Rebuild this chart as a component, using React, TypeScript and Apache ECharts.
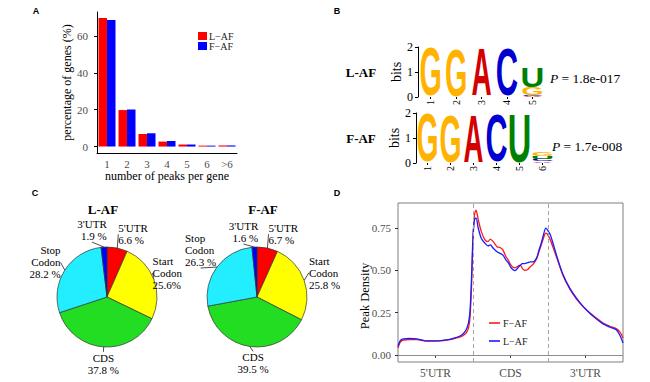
import React, { useEffect, useRef } from 'react';
import * as echarts from 'echarts';

// ---------- Panel A: number of peaks per gene ----------
const peakCategories = ['1', '2', '3', '4', '5', '6', '>6'];
const genesPctLAF = [69.8, 19.8, 6.8, 2.7, 1.1, 0.5, 0.6];
const genesPctFAF = [68.6, 20.1, 7.2, 3.0, 1.1, 0.5, 0.6];
const percentTicks = [0, 20, 40, 60];

// ---------- Panel B: motif logos (position, letter, bits; bottom to top) ----------
const logoLAF: [number, string, number][] = [
  [1, 'G', 2.0],
  [2, 'G', 1.98],
  [3, 'A', 1.95],
  [4, 'C', 1.97],
  [5, 'A', 0.03],
  [5, 'C', 0.04],
  [5, 'G', 0.3],
  [5, 'U', 0.8],
];
const logoFAF: [number, string, number][] = [
  [1, 'G', 2.0],
  [2, 'G', 1.98],
  [3, 'A', 1.98],
  [4, 'C', 1.98],
  [5, 'U', 2.0],
  [6, 'A', 0.06],
  [6, 'C', 0.09],
  [6, 'U', 0.12],
  [6, 'G', 0.18],
];
const bitsTicks = [0, 1, 2];
const pValueLAF = '1.8e-017';
const pValueFAF = '1.7e-008';

// ---------- Panel C: peak distribution pies ----------
const regionNames = ["5'UTR", 'Start\nCodon', 'CDS', 'Stop\nCodon', "3'UTR"];
const regionPctLAF = [6.6, 25.6, 37.8, 28.2, 1.9];
const regionPctFAF = [6.7, 25.8, 39.5, 26.3, 1.6];
const pctSuffixLAF = [' %', '%', ' %', ' %', ' %'];
const pctSuffixFAF = [' %', ' %', ' %', ' %', ' %'];
const regionColors = ['#ff0000', '#ffff00', '#22dd22', '#22eeff', '#0000ff'];

// ---------- Panel D: metagene peak density ----------
const metaX = [0, 0.03, 0.07, 0.15, 0.25, 0.32, 0.38, 0.5, 0.6, 0.69, 0.76, 0.82, 0.87, 0.91, 0.94, 0.96, 0.98, 1.0, 1.02, 1.04, 1.07, 1.11, 1.16, 1.2, 1.23, 1.27, 1.32, 1.36, 1.4, 1.44, 1.47, 1.5, 1.53, 1.56, 1.6, 1.63, 1.66, 1.69, 1.73, 1.76, 1.8, 1.85, 1.88, 1.91, 1.94, 1.97, 1.99, 2.03, 2.08, 2.12, 2.2, 2.29, 2.38, 2.47, 2.56, 2.64, 2.73, 2.82, 2.91, 2.96, 3.0];
const densityFAF = [0.04, 0.075, 0.088, 0.09, 0.09, 0.085, 0.082, 0.082, 0.085, 0.09, 0.098, 0.105, 0.115, 0.13, 0.16, 0.22, 0.4, 0.68, 0.83, 0.855, 0.8, 0.73, 0.68, 0.67, 0.685, 0.67, 0.64, 0.635, 0.62, 0.58, 0.56, 0.535, 0.52, 0.515, 0.525, 0.53, 0.51, 0.5, 0.505, 0.52, 0.535, 0.57, 0.61, 0.65, 0.69, 0.72, 0.715, 0.68, 0.62, 0.57, 0.47, 0.39, 0.33, 0.285, 0.248, 0.22, 0.19, 0.17, 0.155, 0.135, 0.1];
const densityLAF = [0.05, 0.085, 0.095, 0.097, 0.095, 0.088, 0.083, 0.083, 0.086, 0.092, 0.1, 0.11, 0.125, 0.15, 0.19, 0.26, 0.45, 0.7, 0.8, 0.81, 0.75, 0.69, 0.66, 0.645, 0.65, 0.63, 0.61, 0.6, 0.59, 0.56, 0.545, 0.52, 0.505, 0.498, 0.515, 0.53, 0.54, 0.54, 0.545, 0.55, 0.55, 0.575, 0.62, 0.66, 0.71, 0.75, 0.74, 0.71, 0.64, 0.58, 0.475, 0.395, 0.335, 0.285, 0.245, 0.215, 0.185, 0.165, 0.148, 0.115, 0.07];
const densityTicks = [0, 0.25, 0.5, 0.75];
const metaRegionTicks = [0.5, 1.5, 2.5];
const metaRegionLabels = ["5'UTR", 'CDS', "3'UTR"];
const metaBoundaries = [1, 2];

// ---------- styling ----------
const SERIF = "'Liberation Serif', 'Times New Roman', serif";
const SANS = "'Liberation Sans', Arial, sans-serif";
const LETTER_COLORS: Record<string, string> = { A: '#d40000', C: '#0000d0', G: '#ffb300', U: '#008000' };
const LETTER_INK_W: Record<string, number> = { A: 0.71, C: 0.64, G: 0.69, U: 0.6 };
const LETTER_INK_H = 0.735;
const LETTER_FONT = 50;
// small per-label offsets (dx, dy, optional align) for pie label placement
const pieLabelAdjustLAF: [number, number, string?][] = [[0, 3], [-6, -5], [0, 0], [0, -5], [3, 0]];
const pieLabelAdjustFAF: [number, number, string?][] = [[0, 3], [0, -6], [4, 0], [-28, -14, 'left'], [4, 2]];

function logoSeries(logo: [number, string, number][], axisIndex: number, fill: number) {
  const bases: number[] = [];
  const acc: Record<number, number> = {};
  logo.forEach(([p, , b]) => {
    bases.push(acc[p] || 0);
    acc[p] = (acc[p] || 0) + b;
  });
  const letters = logo.map((d) => d[1]);
  return {
    type: 'custom',
    xAxisIndex: axisIndex,
    yAxisIndex: axisIndex,
    silent: true,
    dimensions: ['pos', 'base', 'bits'],
    data: logo.map(([p, , b], i) => [p, bases[i], b]),
    renderItem: (params: any, api: any) => {
      const pos = api.value(0);
      const base = api.value(1);
      const bits = api.value(2);
      const lo = api.coord([pos - 0.5, base]);
      const hi = api.coord([pos + 0.5, base + bits]);
      const letter = letters[params.dataIndex];
      const w = (hi[0] - lo[0]) * fill;
      const h = lo[1] - hi[1];
      return {
        type: 'text',
        x: (lo[0] + hi[0]) / 2,
        y: (lo[1] + hi[1]) / 2,
        scaleX: w / (LETTER_INK_W[letter] * LETTER_FONT),
        scaleY: h / (LETTER_INK_H * LETTER_FONT),
        style: {
          text: letter,
          fontSize: LETTER_FONT,
          fontFamily: SANS,
          fontWeight: 'bold',
          fill: LETTER_COLORS[letter],
          align: 'center',
          verticalAlign: 'middle',
        },
      };
    },
  };
}

function pieSeries(
  values: number[],
  suffix: string[],
  adjust: [number, number, string?][],
  cx: number,
  cy: number,
  r: number
) {
  const total = values.reduce((a, b) => a + b, 0);
  return {
    type: 'pie',
    center: [cx, cy],
    radius: r,
    startAngle: 90,
    clockwise: true,
    avoidLabelOverlap: false,
    silent: true,
    data: values.map((v, i) => ({ name: regionNames[i], value: v, itemStyle: { color: regionColors[i] } })),
    itemStyle: { borderColor: '#333', borderWidth: 0.7 },
    label: {
      show: true,
      position: 'outside',
      color: '#000',
      fontFamily: SERIF,
      fontSize: 11,
      lineHeight: 12,
      formatter: (p: any) => `${regionNames[p.dataIndex]}\n${values[p.dataIndex]}${suffix[p.dataIndex]}`,
    },
    labelLine: { show: true, length: 3, length2: 0, lineStyle: { color: '#000', width: 0.7 } },
    labelLayout: (p: any) => {
      const i = p.dataIndex;
      let before = 0;
      for (let k = 0; k < i; k++) before += values[k];
      const theta = ((before + values[i] / 2) / total) * Math.PI * 2;
      const s = Math.sin(theta);
      const c = Math.cos(theta);
      const d = r * 1.1;
      const [dx, dy, al] = adjust[i];
      const bottom = c < -0.8;
      return {
        x: cx + d * s + dx,
        y: cy - d * c + dy,
        align: al || (bottom && Math.abs(s) < 0.2 ? 'center' : s < 0 ? 'right' : 'left'),
        verticalAlign: c > 0.8 ? 'bottom' : bottom ? 'top' : 'middle',
      };
    },
  };
}

function txt(text: string, x: number, y: number, size: number, opts: any = {}) {
  return {
    type: 'text',
    x,
    y,
    rotation: opts.rotation || 0,
    silent: true,
    style: {
      text,
      fontSize: size,
      fontFamily: opts.family || SERIF,
      fontWeight: opts.weight || 'normal',
      fill: opts.color || '#000',
      align: opts.align || 'center',
      verticalAlign: 'middle',
      rich: opts.rich,
    },
  };
}

export default function App() {
  const ref = useRef<HTMLDivElement>(null);
  useEffect(() => {
    if (!ref.current) return;
    const chart = echarts.init(ref.current, null, { renderer: 'svg' });
    const pRich = { i: { fontStyle: 'italic', fontSize: 13.5, fontFamily: SERIF } };
    const option: any = {
      animation: false,
      backgroundColor: '#fff',
      grid: [
        { left: 97, top: 12, width: 140, height: 141 },
        { left: 418, top: 47, width: 127, height: 50 },
        { left: 416, top: 113, width: 138, height: 50 },
        { left: 398, top: 203, width: 225, height: 159, show: true, borderColor: '#7f7f7f', borderWidth: 1 },
      ],
      xAxis: [
        {
          gridIndex: 0,
          type: 'category',
          data: peakCategories,
          name: 'number of peaks per gene',
          nameLocation: 'middle',
          nameGap: 17,
          nameTextStyle: { fontFamily: SERIF, fontSize: 12, color: '#000' },
          axisLine: { onZero: false, lineStyle: { color: '#000', width: 1 } },
          axisTick: { alignWithLabel: true, length: 3, lineStyle: { color: '#000' } },
          axisLabel: { fontFamily: SERIF, fontSize: 11, color: '#4d4d4d', margin: 5 },
        },
        {
          gridIndex: 1,
          type: 'value',
          min: 0.5,
          max: 5.5,
          axisLine: { show: false },
          splitLine: { show: false },
          axisTick: { customValues: [1, 2, 3, 4, 5], length: 2, lineStyle: { color: '#000' } },
          axisLabel: { customValues: [1, 2, 3, 4, 5], rotate: 90, fontFamily: SERIF, fontSize: 10, color: '#000', margin: 3 },
        },
        {
          gridIndex: 2,
          type: 'value',
          min: 0.5,
          max: 6.5,
          axisLine: { show: false },
          splitLine: { show: false },
          axisTick: { customValues: [1, 2, 3, 4, 5, 6], length: 2, lineStyle: { color: '#000' } },
          axisLabel: { customValues: [1, 2, 3, 4, 5, 6], rotate: 90, fontFamily: SERIF, fontSize: 10, color: '#000', margin: 3 },
        },
        {
          gridIndex: 3,
          type: 'value',
          min: 0,
          max: 3,
          axisLine: { show: false },
          splitLine: { show: false },
          axisTick: { customValues: metaRegionTicks, length: 3, lineStyle: { color: '#333' } },
          axisLabel: {
            customValues: metaRegionTicks,
            fontFamily: SERIF,
            fontSize: 11.5,
            color: '#4d4d4d',
            margin: 5,
            formatter: (v: number) => metaRegionLabels[metaRegionTicks.indexOf(v)] ?? '',
          },
        },
      ],
      yAxis: [
        {
          gridIndex: 0,
          type: 'value',
          min: -3.5,
          max: 73,
          name: 'percentage of genes (%)',
          nameLocation: 'middle',
          nameGap: 16,
          nameTextStyle: { fontFamily: SERIF, fontSize: 12, color: '#000' },
          splitLine: { show: false },
          axisLine: { show: true, lineStyle: { color: '#000', width: 1 } },
          axisTick: { show: true, customValues: percentTicks, length: 3, lineStyle: { color: '#000' } },
          axisLabel: { customValues: percentTicks, fontFamily: SERIF, fontSize: 11, color: '#4d4d4d', margin: 9 },
        },
        {
          gridIndex: 1,
          type: 'value',
          min: 0,
          max: 2,
          name: 'bits',
          nameLocation: 'middle',
          nameGap: 14,
          nameTextStyle: { fontFamily: SERIF, fontSize: 14, color: '#000' },
          splitLine: { show: false },
          axisLine: { show: true, lineStyle: { color: '#000', width: 1 } },
          axisTick: { show: true, customValues: bitsTicks, length: 3, lineStyle: { color: '#000' } },
          axisLabel: { customValues: bitsTicks, fontFamily: SERIF, fontSize: 12, color: '#000', margin: 5 },
        },
        {
          gridIndex: 2,
          type: 'value',
          min: 0,
          max: 2,
          name: 'bits',
          nameLocation: 'middle',
          nameGap: 14,
          nameTextStyle: { fontFamily: SERIF, fontSize: 14, color: '#000' },
          splitLine: { show: false },
          axisLine: { show: true, lineStyle: { color: '#000', width: 1 } },
          axisTick: { show: true, customValues: bitsTicks, length: 3, lineStyle: { color: '#000' } },
          axisLabel: { customValues: bitsTicks, fontFamily: SERIF, fontSize: 12, color: '#000', margin: 5 },
        },
        {
          gridIndex: 3,
          type: 'value',
          min: -0.042,
          max: 0.898,
          splitLine: { show: false },
          axisLine: { show: false },
          axisTick: { show: true, customValues: densityTicks, length: 3, lineStyle: { color: '#333' } },
          axisLabel: {
            customValues: densityTicks,
            fontFamily: SERIF,
            fontSize: 11,
            color: '#4d4d4d',
            margin: 7,
            formatter: (v: number) => v.toFixed(2),
          },
        },
      ],
      legend: [
        {
          data: ['L−AF', 'F−AF'],
          left: 198,
          top: 31,
          orient: 'vertical',
          icon: 'rect',
          itemWidth: 9,
          itemHeight: 8,
          itemGap: 0,
          selectedMode: false,
          padding: 0,
          textStyle: { fontFamily: SERIF, fontSize: 10, color: '#222', lineHeight: 8, padding: [0, 0, 0, -3] },
        },
        {
          data: ['F−AF ', 'L−AF '],
          left: 489,
          top: 317,
          orient: 'vertical',
          icon: 'rect',
          itemWidth: 11,
          itemHeight: 1.6,
          itemGap: 6,
          selectedMode: false,
          padding: 0,
          textStyle: { fontFamily: SERIF, fontSize: 10, color: '#222', lineHeight: 12, padding: [0, 0, 0, -2] },
        },
      ],
      series: [
        {
          type: 'bar',
          name: 'L−AF',
          xAxisIndex: 0,
          yAxisIndex: 0,
          data: genesPctLAF,
          itemStyle: { color: '#ff0000' },
          barGap: '0%',
          barCategoryGap: '15%',
          silent: true,
        },
        {
          type: 'bar',
          name: 'F−AF',
          xAxisIndex: 0,
          yAxisIndex: 0,
          data: genesPctFAF,
          itemStyle: { color: '#0000ff' },
          barGap: '0%',
          barCategoryGap: '15%',
          silent: true,
        },
        logoSeries(logoLAF, 1, 0.78),
        logoSeries(logoFAF, 2, 0.85),
        pieSeries(regionPctLAF, pctSuffixLAF, pieLabelAdjustLAF, 107, 297, 50),
        pieSeries(regionPctFAF, pctSuffixFAF, pieLabelAdjustFAF, 257, 297, 50),
        {
          type: 'line',
          name: 'F−AF ',
          xAxisIndex: 3,
          yAxisIndex: 3,
          data: metaX.map((x, i) => [x, densityFAF[i]]),
          symbol: 'none',
          smooth: 0.3,
          lineStyle: { color: '#ff1a1a', width: 1.3 },
          itemStyle: { color: '#ff1a1a' },
          silent: true,
          markLine: {
            silent: true,
            symbol: 'none',
            label: { show: false },
            data: [
              { yAxis: 0, lineStyle: { color: '#8c8c8c', type: 'solid', width: 1 } },
              ...metaBoundaries.map((b) => ({ xAxis: b, lineStyle: { color: '#a6a6a6', type: [4, 3], width: 1 } })),
            ],
          },
        },
        {
          type: 'line',
          name: 'L−AF ',
          xAxisIndex: 3,
          yAxisIndex: 3,
          data: metaX.map((x, i) => [x, densityLAF[i]]),
          symbol: 'none',
          smooth: 0.3,
          lineStyle: { color: '#1a1aff', width: 1.3 },
          itemStyle: { color: '#1a1aff' },
          silent: true,
        },
      ],
      graphic: [
        txt('A', 36, 11, 9, { family: SANS, weight: 'bold' }),
        txt('B', 337, 11, 9, { family: SANS, weight: 'bold' }),
        txt('C', 35, 193, 9, { family: SANS, weight: 'bold' }),
        txt('D', 337, 193, 9, { family: SANS, weight: 'bold' }),
        txt('L-AF', 361, 72, 13, { weight: 'bold' }),
        txt('F-AF', 361, 138, 13, { weight: 'bold' }),
        txt(`{i|P} = ${pValueLAF}`, 550, 78, 13.5, { align: 'left', rich: pRich }),
        txt(`{i|P} = ${pValueFAF}`, 552, 146, 13.5, { align: 'left', rich: pRich }),
        txt('L-AF', 103, 209, 13, { weight: 'bold' }),
        txt('F-AF', 263, 209, 13, { weight: 'bold' }),
        txt('Peak Density', 365, 296, 12.5, { rotation: Math.PI / 2 }),
      ],
    };
    chart.setOption(option);
    return () => chart.dispose();
  }, []);
  return (
    <div
      ref={ref}
      style={{ position: 'fixed', left: 0, top: 0, width: 650, height: 382, background: '#fff' }}
    />
  );
}
